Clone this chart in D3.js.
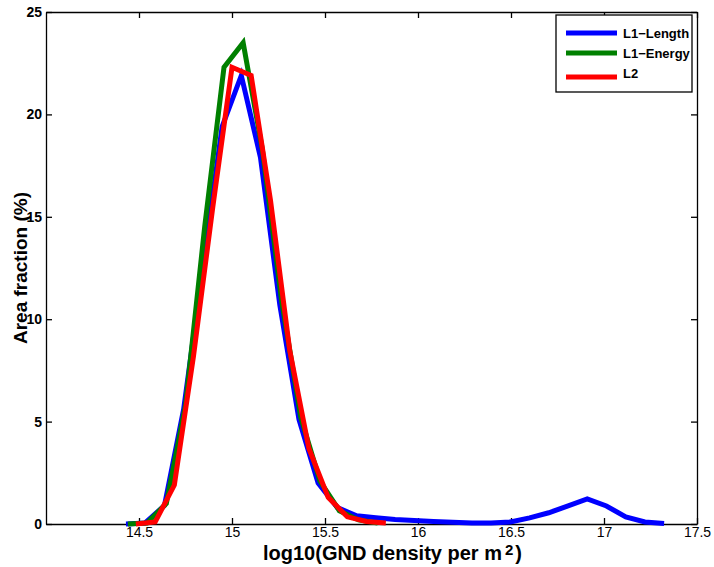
<!DOCTYPE html>
<html>
<head>
<meta charset="utf-8">
<script src="https://cdn.jsdelivr.net/npm/d3@7"></script>
<style>
  body { margin: 0; background: #fff; }
  svg { font-family: "Liberation Sans", Arial, sans-serif; }
  .axis path, .axis line { stroke: #000; stroke-width: 1.3; }
  .axis text { fill: #000; }
</style>
</head>
<body>
<div class="chart"></div>
<script>
var svgWidth = 714;
var svgHeight = 567;

var margin = { top: 12, right: 17, bottom: 43, left: 46 };
var width = svgWidth - margin.left - margin.right;
var height = svgHeight - margin.top - margin.bottom;

// bin centres (log10 density) and area fractions
var lengthX = [14.43, 14.533, 14.637, 14.74, 14.843, 14.947, 15.05, 15.153, 15.257, 15.36,
  15.463, 15.567, 15.67, 15.773, 15.877, 15.98, 16.083, 16.187, 16.29, 16.393, 16.497,
  16.6, 16.703, 16.807, 16.91, 17.013, 17.117, 17.22, 17.323];
var lengthY = [0, 0.05, 0.9, 5.6, 12.5, 19.4, 21.9, 17.9, 10.7, 5.1,
  2.0, 0.8, 0.4, 0.3, 0.22, 0.17, 0.12, 0.08, 0.05, 0.05, 0.1,
  0.3, 0.55, 0.88, 1.22, 0.88, 0.35, 0.1, 0.02];

var energyX = [14.44, 14.543, 14.647, 14.75, 14.853, 14.957, 15.06, 15.163, 15.267, 15.37,
  15.473, 15.577, 15.68, 15.783];
var energyY = [0, 0.05, 1.0, 5.8, 14.5, 22.3, 23.5, 18.3, 10.9, 5.2,
  2.1, 0.65, 0.2, 0.05];

var l2X = [14.483, 14.587, 14.69, 14.793, 14.897, 15.0, 15.103, 15.207, 15.31, 15.413,
  15.517, 15.62, 15.723, 15.827];
var l2Y = [0, 0.1, 1.9, 8.2, 15.5, 22.3, 21.9, 15.8, 8.5, 3.7,
  1.3, 0.35, 0.12, 0.05];

var seriesNames = ["L1\u2212Length", "L1\u2212Energy", "L2"];
var seriesColors = ["#0000ff", "#008000", "#ff0000"];

var xTicks = [14.5, 15, 15.5, 16, 16.5, 17, 17.5];
var yTicks = [0, 5, 10, 15, 20, 25];

var series = [
  { name: seriesNames[0], color: seriesColors[0], x: lengthX, y: lengthY },
  { name: seriesNames[1], color: seriesColors[1], x: energyX, y: energyY },
  { name: seriesNames[2], color: seriesColors[2], x: l2X, y: l2Y }
];

var svg = d3.select(".chart")
  .append("svg")
  .attr("width", svgWidth)
  .attr("height", svgHeight);

var chart = svg.append("g")
  .attr("transform", "translate(" + margin.left + "," + margin.top + ")");

var xScale = d3.scaleLinear().domain([14, 17.5]).range([0, width]);
var yScale = d3.scaleLinear().domain([0, 25]).range([height, 0]);

// axes with inward ticks, matlab style box
var bottomAxis = d3.axisBottom(xScale).tickValues(xTicks).tickSizeInner(-6).tickSizeOuter(0)
  .tickPadding(3).tickFormat(d3.format("~g"));
var topAxis = d3.axisTop(xScale).tickValues(xTicks).tickSizeInner(-6).tickSizeOuter(0).tickFormat("");
var leftAxis = d3.axisLeft(yScale).tickValues(yTicks).tickSizeInner(-6).tickSizeOuter(0)
  .tickPadding(10).tickFormat(d3.format("d"));
var rightAxis = d3.axisRight(yScale).tickValues(yTicks).tickSizeInner(-6).tickSizeOuter(0).tickFormat("");

chart.append("g").attr("class", "axis")
  .attr("transform", "translate(0," + height + ")")
  .call(bottomAxis)
  .selectAll("text")
  .attr("font-size", 14);

chart.append("g").attr("class", "axis").call(topAxis);

chart.append("g").attr("class", "axis")
  .call(leftAxis)
  .selectAll("text")
  .attr("font-size", 14)
  .attr("font-weight", "bold")
  .attr("dx", 6);

chart.append("g").attr("class", "axis")
  .attr("transform", "translate(" + width + ",0)")
  .call(rightAxis);

var line = d3.line()
  .x(function(d) { return xScale(d[0]); })
  .y(function(d) { return yScale(d[1]); });

series.forEach(function(s) {
  chart.append("path")
    .datum(d3.zip(s.x, s.y))
    .attr("fill", "none")
    .attr("stroke", s.color)
    .attr("stroke-width", 5)
    .attr("stroke-linejoin", "miter")
    .attr("d", line);
});

// legend
var legend = svg.append("g").attr("transform", "translate(556,15)");
legend.append("rect")
  .attr("width", 136).attr("height", 77)
  .attr("fill", "#fff").attr("stroke", "#000").attr("stroke-width", 1.3);

var lineYs = [18, 38, 62];
var textYs = [18, 38, 58];
series.forEach(function(s, i) {
  legend.append("line")
    .attr("x1", 10).attr("x2", 61)
    .attr("y1", lineYs[i]).attr("y2", lineYs[i])
    .attr("stroke", s.color).attr("stroke-width", 5);
  legend.append("text")
    .attr("x", 67).attr("y", textYs[i])
    .attr("dy", "0.35em")
    .attr("font-size", 13)
    .attr("font-weight", "bold")
    .text(s.name);
});

// axis titles
svg.append("text")
  .attr("transform", "translate(27," + (margin.top + height / 2) + ") rotate(-90)")
  .attr("text-anchor", "middle")
  .attr("font-size", 19)
  .attr("font-weight", "bold")
  .text("Area fraction (%)");

var xTitle = svg.append("text")
  .attr("x", 263)
  .attr("y", 560)
  .attr("font-size", 20)
  .attr("font-weight", "bold");
xTitle.append("tspan").text("log10(GND density per m");
xTitle.append("tspan").attr("font-size", 15).attr("dy", -5).attr("dx", 3).text("2");
xTitle.append("tspan").attr("dy", 5).attr("dx", 2).text(")");
</script>
</body>
</html>
